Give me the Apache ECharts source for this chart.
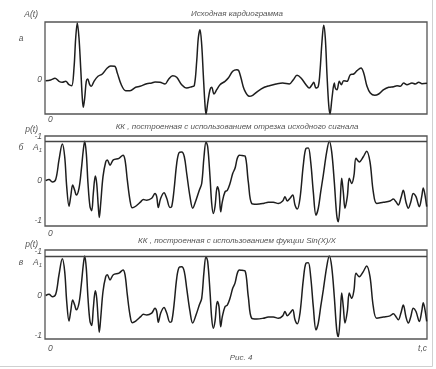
<!DOCTYPE html>
<html><head><meta charset="utf-8">
<script src="https://cdn.jsdelivr.net/npm/echarts@6/dist/echarts.min.js"></script>
<style>html,body{margin:0;padding:0;background:#fff}#c{width:436px;height:369px}</style>
</head><body><div id="c"></div>
<script>
// time axis (arbitrary units, 0..382)
const tMax = 382;
// Panel а : original cardiogram A(t) [t, A]
const cardio = [[0.7,-0.7],[5.7,0],[10,1.7],[14,-1.3],[17.3,-2.3],[20.7,-1.3],[24,-4.7],[26.7,-5.7],[29,12],[30.7,42],[32.3,57],[34,42],[35.7,12],[37.3,-18],[38.3,-27.3],[39.7,-18],[41.3,-1.3],[42.7,1],[44.7,-4.7],[46.3,-6.3],[49,-1.3],[53,3.7],[57.3,6],[62.3,12],[65.7,14],[69.7,13.7],[72.3,7],[76.3,-4.7],[80.7,-10.7],[85,-10.7],[90.7,-7.3],[95,-6.3],[101.7,-3.7],[106.7,-3],[110,-2],[115,-2.3],[120,-4],[123.3,0.3],[127.7,4.3],[131.7,2.7],[136.7,-4.7],[141.7,-8],[146.7,-6.7],[149.3,-5.7],[151.7,18.7],[153.3,42],[155,50.3],[156.7,35.3],[158.3,5.3],[160,-24.7],[161,-34],[162.7,-23],[165,-9.7],[166.7,-7.3],[169,-14],[171.7,-9.7],[175,-4.7],[180,-1.3],[183.3,2],[187.7,8.7],[191.7,10.3],[193.7,9.3],[196,2],[199.3,-9.7],[204.3,-16.3],[207.7,-15.3],[212.7,-11.3],[219.3,-7.3],[224.3,-5.7],[231,-4],[237.7,-3],[244.3,-4],[248.3,0.3],[252,4.7],[256,2],[261,-4.7],[264.3,-8],[267,-4.7],[268.7,-2.3],[271,-8],[273.3,-6.3],[275,8.7],[277,38.7],[278.7,54.7],[280.3,42],[282,5.3],[283.7,-24.7],[285,-34],[287,-18],[289.3,-3],[290.3,-8],[292,-9.7],[294.3,-1.3],[296.3,-4.7],[298.7,-0.7],[302,-1.3],[305.3,5.3],[308.7,6],[312,9.3],[316,12],[318.7,7],[322,-6.3],[325.3,-13],[329.7,-15.3],[333.7,-14],[338.7,-9.7],[343.7,-7.3],[348.7,-6.7],[352,-5.7],[355.3,-6.3],[358.7,-3],[362,-4.7],[367,-3],[370.3,-4],[373.7,-2.3],[377,-3.7],[382,-3.3]];
// Panel б : KK built from a segment of the original signal [t, p]
const kkSegment = [[0.7,0.01],[4,0.04],[7.3,-0.02],[10.7,0.04],[14,0.53],[17.3,0.93],[19.7,0.61],[21.7,-0.14],[24,-0.63],[25.7,-0.39],[27.7,-0.1],[29.7,-0.23],[31.3,-0.35],[34,-0.18],[36.3,0.28],[38.3,0.78],[39.7,1.0],[41.3,0.69],[43,-0.06],[45,-0.64],[46.7,-0.74],[48.3,-0.31],[50.3,0.13],[51.7,-0.06],[53.3,-0.64],[54.3,-0.91],[55.7,-0.56],[58,0.11],[60.7,0.48],[62.3,0.53],[65,0.4],[68.3,0.53],[74,0.57],[78,0.65],[80,0.53],[82.3,0.03],[85,-0.48],[87.3,-0.67],[90.7,-0.63],[95.7,-0.52],[98.3,-0.46],[101.7,-0.48],[106.7,-0.43],[110,-0.31],[111.7,-0.39],[113.3,-0.66],[115.7,-0.43],[119,-0.29],[121.7,-0.43],[125,-0.66],[126.7,-0.64],[129,-0.23],[131.7,0.44],[134,0.71],[136.7,0.73],[139.3,0.61],[141.7,0.19],[145,-0.39],[147.7,-0.68],[151,-0.48],[154.3,-0.23],[156.7,-0.06],[159,0.61],[161,0.98],[162.7,0.86],[165,0.11],[166.7,-0.56],[168.3,-0.81],[170,-0.64],[172.3,-0.14],[174,-0.27],[175.7,-0.77],[177.3,-0.52],[180,-0.27],[182.3,-0.23],[185,-0.06],[187.7,0.19],[190,0.32],[192.3,0.57],[194.3,0.65],[197,0.64],[200,0.63],[203.3,-0.02],[206.7,-0.56],[211.7,-0.58],[218.3,-0.56],[223.3,-0.53],[228.3,-0.53],[233.3,-0.56],[237.7,-0.5],[240,-0.39],[242.3,-0.5],[245,-0.43],[247.7,-0.35],[250,-0.6],[252.3,-0.7],[255,-0.43],[258.3,0.4],[261,0.82],[263.3,0.83],[265.7,0.48],[268.3,-0.27],[271,-0.85],[273.3,-0.68],[275.7,-0.27],[278.3,0.15],[281.7,0.73],[284.3,1.0],[286.7,0.73],[289.3,-0.02],[291.7,-0.85],[293.3,-1.02],[295,-0.6],[296.7,0.07],[298.3,-0.27],[300,-0.68],[302.3,-0.39],[304.3,0.07],[306.7,-0.06],[309,0.15],[311,0.57],[314.3,0.48],[318.3,0.61],[321.7,0.75],[325,0.48],[328.3,-0.27],[331.7,-0.56],[338.3,-0.53],[345,-0.5],[348.3,-0.45],[351,-0.52],[353.3,-0.6],[356,-0.42],[358.3,-0.23],[361,-0.53],[363.3,-0.68],[365.7,-0.53],[368.3,-0.31],[371,-0.39],[374.3,-0.64],[376.7,-0.39],[378.3,-0.17],[380,-0.35],[381.7,-0.64]];
// Panel в : KK built using Sin(X)/X [t, p]
const kkSinc = [[0.7,0.01],[4,0.04],[7.3,-0.02],[10.7,0.04],[14,0.53],[17.3,0.93],[19.7,0.61],[21.7,-0.14],[24,-0.63],[25.7,-0.39],[27.7,-0.1],[29.7,-0.23],[31.3,-0.35],[34,-0.18],[36.3,0.28],[38.3,0.78],[39.7,1.0],[41.3,0.69],[43,-0.06],[45,-0.64],[46.7,-0.74],[48.3,-0.31],[50.3,0.13],[51.7,-0.06],[53.3,-0.64],[54.3,-0.91],[55.7,-0.56],[58,0.11],[60.7,0.48],[62.3,0.53],[65,0.4],[68.3,0.53],[74,0.57],[78,0.65],[80,0.53],[82.3,0.03],[85,-0.48],[87.3,-0.67],[90.7,-0.63],[95.7,-0.52],[98.3,-0.46],[101.7,-0.48],[106.7,-0.43],[110,-0.31],[111.7,-0.39],[113.3,-0.66],[115.7,-0.43],[119,-0.29],[121.7,-0.43],[125,-0.66],[126.7,-0.64],[129,-0.23],[131.7,0.44],[134,0.71],[136.7,0.73],[139.3,0.61],[141.7,0.19],[145,-0.39],[147.7,-0.68],[151,-0.48],[154.3,-0.23],[156.7,-0.06],[159,0.61],[161,0.98],[162.7,0.86],[165,0.11],[166.7,-0.56],[168.3,-0.81],[170,-0.64],[172.3,-0.14],[174,-0.27],[175.7,-0.77],[177.3,-0.52],[180,-0.27],[182.3,-0.23],[185,-0.06],[187.7,0.19],[190,0.32],[192.3,0.57],[194.3,0.65],[197,0.64],[200,0.63],[203.3,-0.02],[206.7,-0.56],[211.7,-0.58],[218.3,-0.56],[223.3,-0.53],[228.3,-0.53],[233.3,-0.56],[237.7,-0.5],[240,-0.39],[242.3,-0.5],[245,-0.43],[247.7,-0.35],[250,-0.6],[252.3,-0.7],[255,-0.43],[258.3,0.4],[261,0.82],[263.3,0.83],[265.7,0.48],[268.3,-0.27],[271,-0.85],[273.3,-0.68],[275.7,-0.27],[278.3,0.15],[281.7,0.73],[284.3,1.0],[286.7,0.73],[289.3,-0.02],[291.7,-0.85],[293.3,-1.02],[295,-0.6],[296.7,0.07],[298.3,-0.27],[300,-0.68],[302.3,-0.39],[304.3,0.07],[306.7,-0.06],[309,0.15],[311,0.57],[314.3,0.48],[318.3,0.61],[321.7,0.75],[325,0.48],[328.3,-0.27],[331.7,-0.56],[338.3,-0.53],[345,-0.5],[348.3,-0.45],[351,-0.52],[353.3,-0.6],[356,-0.42],[358.3,-0.23],[361,-0.53],[363.3,-0.68],[365.7,-0.53],[368.3,-0.31],[371,-0.39],[374.3,-0.64],[376.7,-0.39],[378.3,-0.17],[380,-0.35],[381.7,-0.64]];
const A1 = 1;
// tick labels
const yTicks1 = [[0,'0']];
const yTicks23 = [[1.12,'-1'],[0.83,'A{s|1}'],[0,'0'],[-1,'-1']];
const xTicks = [[0,'0']];
const xAxisName = 't,c';
const titles = ['Исходная кардиограмма','КК , построенная с использованием отрезка исходного сигнала','КК , построенная с использованием фукции Sin(X)/X'];
const yNames = ['A(t)','p(t)','p(t)'];
const letters = ['а','б','в'];
const caption = 'Рис. 4';

const FONT = '"Liberation Sans", Arial, sans-serif';
const TC = '#555';
const grids = [
  {left:45, top:22, width:382, height:92},
  {left:45, top:136, width:382, height:90},
  {left:45, top:250, width:382, height:89}
];
const yRanges = [[-34,58],[-1.125,1.13],[-1.08,1.15]];
const series = [cardio, kkSegment, kkSinc];
const yTickSets = [yTicks1, yTicks23, yTicks23];
const xMargins = [1,3,5];

function mkMap(arr){const m={};arr.forEach(a=>{m[String(a[0])]=a[1];});return m;}
const xMap = mkMap(xTicks);

const option = {
  backgroundColor:'#fff',
  animation:false,
  grid: grids.map(g=>Object.assign({show:true, borderColor:'#555', borderWidth:1.3, backgroundColor:'transparent'}, g)),
  xAxis: grids.map((g,i)=>{
    const ax = {type:'value', gridIndex:i, min:0, max:tMax, position:'bottom',
      axisLine:{show:false, onZero:false}, axisTick:{show:false}, splitLine:{show:false},
      axisLabel:{customValues:xTicks.map(a=>a[0]), margin:xMargins[i], fontSize:8.5, fontStyle:'italic', fontFamily:FONT, color:TC,
        formatter:v=>xMap[String(v)]||'',
        align:'left', padding:[0,0,0,3],
        showMinLabel:true, showMaxLabel:true}
    };
    if(i===2){
      ax.name = xAxisName;
      ax.nameLocation = 'end';
      ax.nameGap = 0;
      ax.nameTextStyle = {fontSize:8.5, fontStyle:'italic', fontFamily:FONT, color:TC, align:'right', verticalAlign:'top', padding:[5,0,0,0]};
    }
    return ax;
  }),
  yAxis: grids.map((g,i)=>{
    const m = mkMap(yTickSets[i]);
    return {type:'value', gridIndex:i, min:yRanges[i][0], max:yRanges[i][1],
      axisLine:{show:false, onZero:false}, axisTick:{show:false}, splitLine:{show:false},
      axisLabel:{customValues:yTickSets[i].map(a=>a[0]), margin:3, fontSize:8.5, fontStyle:'italic', fontFamily:FONT, color:TC,
        formatter:v=>m[String(v)]||'',
        rich:{s:{fontSize:6, fontStyle:'italic', fontFamily:FONT, color:TC, verticalAlign:'bottom', padding:[5,0,0,0]}},
        showMinLabel:true, showMaxLabel:true}
    };
  }),
  series: series.map((d,i)=>{
    const s = {type:'line', xAxisIndex:i, yAxisIndex:i, data:d, showSymbol:false, smooth:0.35,
      lineStyle:{color:'#1e1e1e', width:1.5}, silent:true};
    if(i>0){
      s.markLine = {silent:true, symbol:['none','none'], label:{show:false},
        lineStyle:{color:'#444', width:1.3, type:'solid'}, data:[{yAxis:A1}]};
    }
    return s;
  }),
  graphic: [
    ...titles.map((t,i)=>({type:'text', x:237, y:[14,127,241][i], style:{text:t, fill:TC, font:'italic 8px '+FONT, align:'center', verticalAlign:'middle'}})),
    ...yNames.map((t,i)=>({type:'text', x:38, y:[15,130,245][i], style:{text:t, fill:TC, font:'italic 8.5px '+FONT, align:'right', verticalAlign:'middle'}})),
    ...letters.map((t,i)=>({type:'text', x:21, y:[39,148,263][i], style:{text:t, fill:TC, font:'italic 8.5px '+FONT, align:'center', verticalAlign:'middle'}})),
    {type:'text', x:241, y:358, style:{text:caption, fill:TC, font:'italic 8px '+FONT, align:'center', verticalAlign:'middle'}},
    {type:'line', shape:{x1:432.5, y1:0, x2:432.5, y2:366.5}, style:{stroke:'#d0d0d0', lineWidth:1}},
    {type:'line', shape:{x1:0, y1:366.5, x2:432.5, y2:366.5}, style:{stroke:'#d0d0d0', lineWidth:1}}
  ]
};
const chart = echarts.init(document.getElementById('c'), null, {renderer:'canvas'});
chart.setOption(option);
</script>
</body></html>
